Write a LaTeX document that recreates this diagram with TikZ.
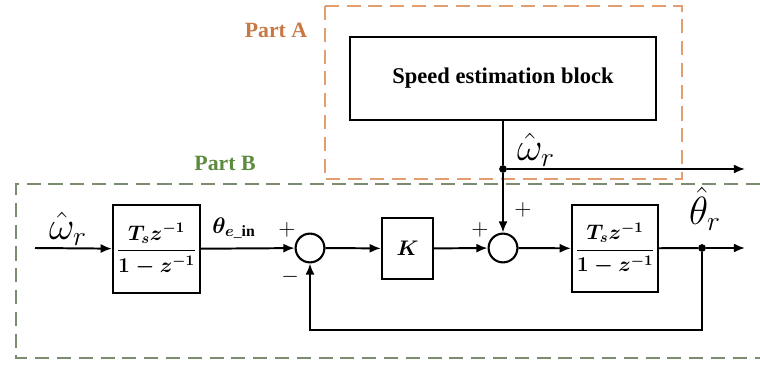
\RequirePackage{fix-cm}
\documentclass[tikz,border=0pt]{standalone}
\usepackage{amsmath,amssymb,bm}
\usepackage{fontspec}
\setmainfont{Liberation Serif}
\usepackage{tikz}
\usetikzlibrary{shapes,arrows,arrows.meta,positioning,calc}
\definecolor{partAorange}{RGB}{200, 120, 66}
\definecolor{partAdash}{RGB}{226, 158, 112}
\definecolor{partBgreen}{RGB}{92, 138, 62}
\definecolor{partBdash}{RGB}{124, 140, 112}

\begin{document}
\begin{tikzpicture}[
        x=0.025cm, y=-0.025cm,
        block/.style={draw=black, line width=1.5pt, rectangle, align=center, inner sep=0pt, font=\fontsize{15}{16}\selectfont\bfseries},
        sumnode/.style={draw=black, line width=1.5pt, circle, minimum size=0.72cm, inner sep=0pt},
        arrow/.style={line width=1.4pt, ->, >={Latex[length=8pt,width=6.5pt]}, color=black},
        sign/.style={font=\fontsize{16}{18}\selectfont},
        lbl/.style={font=\fontsize{28}{30}\selectfont, inner sep=0pt},
        partbox/.style={line width=1.5pt, dash pattern=on 10pt off 5.5pt},
        dot/.style={circle, fill=black, inner sep=0pt, minimum size=5.5pt}
    ]
        \useasboundingbox (0,0) rectangle (760,367);

        % Part frames
        \draw[partbox, draw=partAdash] (325,6) rectangle (682,179);
        \draw[partbox, draw=partBdash] (760,184) -| (16,358) -- (760,358);
        \node[font=\fontsize{15.5}{18}\selectfont\bfseries, text=partAorange] (partA) at (276,30) {Part A};
        \node[font=\fontsize{15.5}{18}\selectfont\bfseries, text=partBgreen] (partB) at (225,163) {Part B};

        % Part A
        \node[block, minimum width=7.65cm, minimum height=2.08cm, font=\fontsize{16}{18}\selectfont\bfseries] (speed) at (503,78.5) {Speed estimation block};
        \node[dot] (jtop) at (503,169) {};
        \coordinate (outtop) at (745,169);

        % Part B blocks
        \coordinate (in) at (35,248);
        \node[block, minimum width=2.18cm, minimum height=2.2cm] (integ1) at (156.5,249) {$\boldsymbol{\dfrac{T_s z^{-1}}{1-z^{-1}}}$};
        \node[sumnode] (sum1) at (310,248) {};
        \node[block, minimum width=1.28cm, minimum height=1.52cm] (gain) at (407.5,248.5) {$\boldsymbol{K}$};
        \node[sumnode] (sum2) at (503,248) {};
        \node[block, minimum width=2.15cm, minimum height=2.18cm] (integ2) at (615,248.5) {$\boldsymbol{\dfrac{T_s z^{-1}}{1-z^{-1}}}$};
        \node[dot] (jout) at (702,248) {};
        \coordinate (out) at (745,248);

        % Labels
        \node[lbl] (wtop) at (536,150) {$\hat{\omega}_r$};
        \node[lbl] (win) at (68,229) {$\hat{\omega}_r$};
        \node[font=\fontsize{16}{18}\selectfont, inner sep=0pt] (thetain) at (234,228) {$\boldsymbol{\theta}_{\boldsymbol{e}\_\mathbf{in}}$};
        \node[lbl] (thetaout) at (705,209) {$\hat{\theta}_r$};
        \node[sign] at (287,230) {$+$};
        \node[sign] at (290,277) {$-$};
        \node[sign] at (480,230) {$+$};
        \node[sign] at (523,210) {$+$};

        % Connections
        \draw[line width=1.4pt] (speed) -- (jtop);
        \draw[arrow] (jtop) -- (outtop);
        \draw[arrow] (jtop) -- (sum2);
        \draw[arrow] (in) -- (integ1);
        \draw[arrow] (integ1) -- (sum1);
        \draw[arrow] (sum1) -- (gain);
        \draw[arrow] (gain) -- (sum2);
        \draw[arrow] (sum2) -- (integ2);
        \draw[line width=1.4pt] (integ2) -- (jout);
        \draw[arrow] (jout) -- (out);
        \draw[arrow] (jout) -- ++(0,82) -| (sum1);
    \end{tikzpicture}
\end{document}
